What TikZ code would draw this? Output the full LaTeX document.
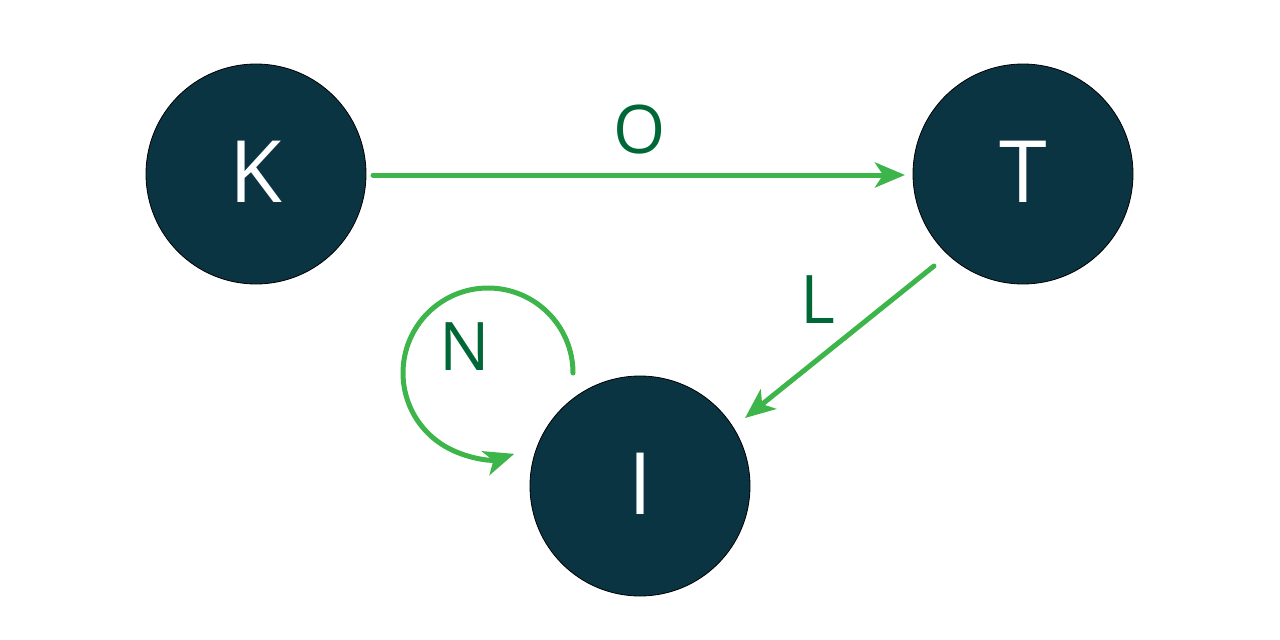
\documentclass[tikz,border=0pt]{standalone}
\usepackage{fontspec}
\setmainfont{Open Sans}
\usetikzlibrary{arrows.meta,calc}
\definecolor{nodefill}{HTML}{0B3443}
\definecolor{edgegreen}{HTML}{3DB54A}
\definecolor{labelgreen}{HTML}{006837}
\tikzset{
  state/.style={circle, fill=nodefill, draw=black, line width=0.8pt, minimum size=220pt, inner sep=0pt, text=white, font=\fontsize{86}{86}\selectfont, text height=63pt, text depth=6pt},
  conn/.style={draw=edgegreen, line width=5pt, line cap=round, -{Stealth[length=30pt,width=25pt,inset=8pt]}},
  elabel/.style={text=labelgreen, font=\fontsize{67}{67}\selectfont, inner sep=0pt}
}
\begin{document}
\begin{tikzpicture}[x=1pt,y=-1pt]
\useasboundingbox (0,0) rectangle (1280,640);
\node[state] (K) at (256,174) {K};
\node[state] (T) at (1023,174) {T};
\node[state] (I) at (640,486) {I};
\draw[conn] ($(K)+(117,1)$) -- ($(T)+(-118,1)$);
\node[elabel] (O) at (640,130) {O};
\draw[conn] ($(T)+(-89,92)$) -- ($(I)+(105,-68)$);
\node[elabel] (L) at (818,300) {L};
\coordinate (n0) at ($(I)+(-67,-113)$);
\draw[conn] (n0) arc[start angle=0, end angle=-288, radius=85];
\node[elabel] (N) at (465,347) {N};
\end{tikzpicture}
\end{document}
